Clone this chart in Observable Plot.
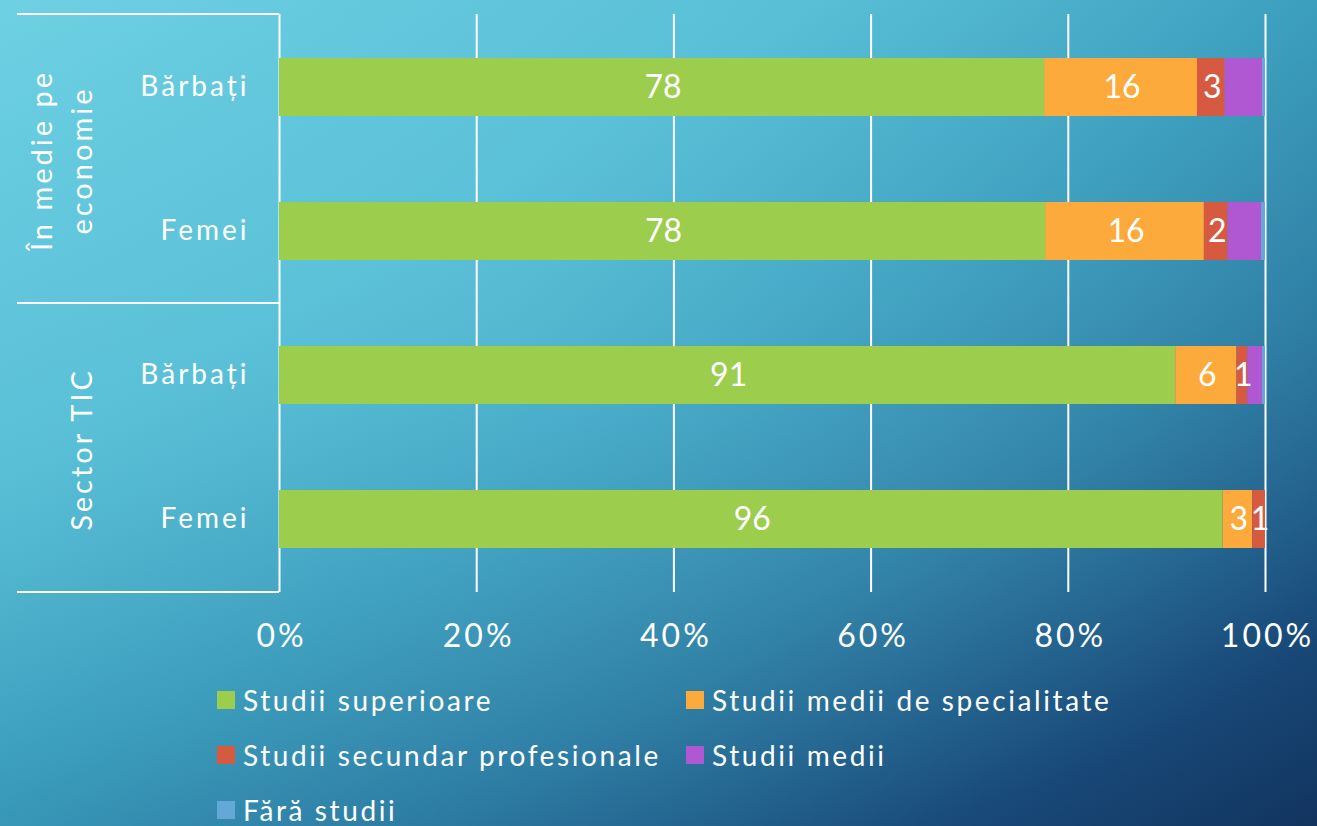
<!DOCTYPE html>
<html>
<head>
<meta charset="utf-8">
<script src="https://cdn.jsdelivr.net/npm/d3@7"></script>
<script src="https://cdn.jsdelivr.net/npm/@observablehq/plot@0.6"></script>
<style>
  html, body { margin: 0; padding: 0; width: 1317px; height: 826px; overflow: hidden; }
  body {
    position: relative;
    font-family: Lato, "Open Sans", sans-serif;
    color: #fff;
    background:
      radial-gradient(ellipse 75% 65% at 40% 40%, rgba(112,212,230,0.3) 0%, rgba(112,212,230,0) 100%),
      linear-gradient(150deg, #6ed0e3 0%, #55bcd4 30%, #3a9bbb 50%, #2a78a0 68%, #194b7b 86%, #12345f 100%);
  }
  #chart svg { display: block; }
  #chart g[aria-label="y-axis tick label"] text { letter-spacing: 3px; }
  #chart g[aria-label="x-axis tick label"] text { letter-spacing: 3px; }
  #chart g[aria-label="bar-label"] text { letter-spacing: 1.5px; }
  #chart .group-label { letter-spacing: 3px; }
  #legend {
    position: absolute; left: 217px; top: 672px;
    display: grid; grid-template-columns: 469px auto; grid-auto-rows: 55px;
    font-size: 28px; line-height: 1; letter-spacing: 2.6px;
  }
  .item { display: flex; align-items: center; white-space: nowrap; }
  .sw { width: 18px; height: 18px; margin-right: 8px; flex: none; }
</style>
</head>
<body>
<div id="chart"></div>
<div id="legend"></div>
<script>
// ---- data ----
const groupLabels = ["În medie pe\neconomie", "Sector TIC"];
const rowLabels = ["Bărbați", "Femei", "Bărbați", "Femei"];
const rowGroup = [0, 0, 1, 1];
const series = ["Studii superioare", "Studii medii de specialitate", "Studii secundar profesionale", "Studii medii", "Fără studii"];
const seriesColors = ["#9ccd4c", "#fcaa3b", "#d55a40", "#b058d2", "#64a8d8"];
const labeledSeries = [true, true, true, false, false];
// values per series, one per row (percent)
const superioare   = [77.6, 77.7, 90.9, 95.7];
const mediiSpec    = [15.5, 16.1, 6.2, 3.0];
const secundarProf = [2.8, 2.4, 1.1, 1.3];
const medii        = [3.8, 3.4, 1.5, 0.0];
const faraStudii   = [0.3, 0.4, 0.3, 0.0];
const seriesValues = [superioare, mediiSpec, secundarProf, medii, faraStudii];
const xTicks = [0, 20, 40, 60, 80, 100];

const data = [];
rowLabels.forEach((r, i) => {
  series.forEach((s, j) => {
    const v = seriesValues[j][i];
    data.push({ row: i, series: s, value: v, label: labeledSeries[j] && v > 0 ? String(Math.round(v)) : "" });
  });
});

const W = 1317, H = 662, mL = 279, mR = 52, mT = 14, mB = 70;

const plot = Plot.plot({
  width: W, height: H,
  marginLeft: mL, marginRight: mR, marginTop: mT, marginBottom: mB,
  style: { background: "transparent", color: "#fff", fontFamily: "Lato, 'Open Sans', sans-serif", overflow: "visible" },
  x: { domain: [0, 100], label: null },
  y: { domain: [0, 1, 2, 3], paddingInner: 0.6, paddingOuter: 0.3, label: null },
  color: { domain: series, range: seriesColors },
  marks: [
    Plot.ruleX(xTicks, { stroke: "#fff", strokeWidth: 2, strokeOpacity: 1 }),
    Plot.barX(data, Plot.stackX({ y: "row", x: "value", fill: "series" })),
    Plot.text(data, Plot.stackX({ y: "row", x: "value", z: "series", text: "label", fill: "#fff", fontSize: 32, dx: 1, ariaLabel: "bar-label" })),
    Plot.axisX({ ticks: xTicks, tickFormat: d => d + "%", tickSize: 0, tickPadding: 32, fontSize: 32, dx: 2, label: null }),
    Plot.axisY({ tickFormat: i => rowLabels[i], tickSize: 0, tickPadding: 30, fontSize: 28, label: null })
  ]
});
document.getElementById("chart").appendChild(plot);

// ---- table decorations (group labels & separators) using Plot's y scale ----
const yScale = plot.scale("y");
const bw = yScale.bandwidth;
const frameTop = mT, frameBottom = H - mB;
const groupBounds = [];
groupLabels.forEach((g, gi) => {
  const idx = rowGroup.map((v, i) => v === gi ? i : -1).filter(i => i >= 0);
  groupBounds.push([yScale.apply(idx[0]), yScale.apply(idx[idx.length - 1]) + bw]);
});
const seps = [frameTop];
for (let k = 0; k < groupBounds.length - 1; k++) seps.push((groupBounds[k][1] + groupBounds[k + 1][0]) / 2);
seps.push(frameBottom);
const svgSel = d3.select(plot);
const deco = svgSel.append("g");
deco.selectAll("line").data(seps).join("line")
  .attr("x1", 17).attr("x2", mL).attr("y1", d => d).attr("y2", d => d)
  .attr("stroke", "#fff").attr("stroke-width", 2);
groupLabels.forEach((g, gi) => {
  const c = (seps[gi] + seps[gi + 1]) / 2;
  const lines = g.split("\n");
  const t = deco.append("text")
    .attr("class", "group-label")
    .attr("transform", `translate(82,${c + 2}) rotate(-90)`)
    .attr("text-anchor", "middle")
    .attr("fill", "#fff")
    .attr("font-size", 29);
  lines.forEach((ln, li) => {
    t.append("tspan").attr("x", 0)
      .attr("dy", li === 0 ? (-(lines.length - 1) * 40 + 10) : 40)
      .text(ln);
  });
});

// ---- legend ----
const legend = d3.select("#legend");
series.forEach((s, j) => {
  const it = legend.append("div").attr("class", "item");
  it.append("div").attr("class", "sw").style("background", seriesColors[j]);
  it.append("span").text(s);
});
</script>
</body>
</html>
